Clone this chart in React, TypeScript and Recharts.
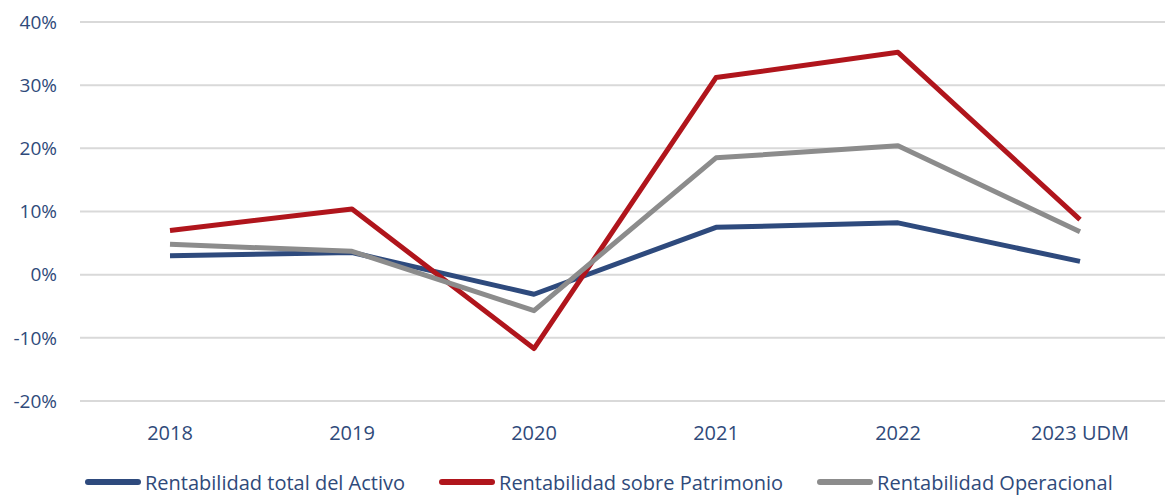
import { LineChart, Line, XAxis, YAxis, CartesianGrid, Legend } from 'recharts'

const years = ['2018', '2019', '2020', '2021', '2022', '2023 UDM']
const activo = [3.0, 3.5, -3.1, 7.5, 8.2, 2.1]
const patrimonio = [7.0, 10.4, -11.7, 31.2, 35.2, 8.7]
const operacional = [4.8, 3.7, -5.7, 18.5, 20.4, 6.8]
const yTicks = [-20, -10, 0, 10, 20, 30, 40]
const legendOrder = ['Rentabilidad total del Activo', 'Rentabilidad sobre Patrimonio', 'Rentabilidad Operacional']

const data = years.map((y, i) => ({
  year: y,
  activo: activo[i],
  patrimonio: patrimonio[i],
  operacional: operacional[i],
}))

const textColor = '#2f4a7a'
const font = '"Open Sans", sans-serif'

function LegendBox({ payload }: any) {
  const items = [...(payload || [])].sort((a: any, b: any) => legendOrder.indexOf(a.value) - legendOrder.indexOf(b.value))
  return (
    <div style={{ display: 'flex', paddingLeft: 85, height: 28, alignItems: 'center', fontFamily: font, fontSize: 20, color: textColor, whiteSpace: 'nowrap' }}>
      {items.map((p: any) => (
        <div key={p.value} style={{ display: 'flex', alignItems: 'center', marginRight: 34 }}>
          <span style={{ display: 'inline-block', width: 56, height: 6, borderRadius: 3, background: p.color, marginRight: 4 }} />
          <span>{p.value}</span>
        </div>
      ))}
    </div>
  )
}

export default function App() {
  return (
    <div style={{ position: 'absolute', left: 0, top: 0, background: '#fff' }}>
      <LineChart width={1165} height={496} data={data} margin={{ top: 22, right: 0, left: 0, bottom: 0 }}>
        <CartesianGrid vertical={false} stroke="#d9d9d9" strokeWidth={2} />
        <XAxis
          dataKey="year"
          axisLine={false}
          tickLine={false}
          tickMargin={19}
          height={67}
          padding={{ left: 90, right: 85 }}
          tick={{ fill: textColor, fontSize: 20, fontFamily: font }}
        />
        <YAxis
          domain={[-20, 40]}
          ticks={yTicks}
          width={80}
          axisLine={false}
          tickLine={false}
          tickMargin={17}
          tickFormatter={(v: number) => `${v}%`}
          tick={{ fill: textColor, fontSize: 19, fontFamily: font }}
        />
        <Legend verticalAlign="bottom" height={28} content={<LegendBox />} />
        <Line dataKey="activo" name="Rentabilidad total del Activo" stroke="#2e4a7d" strokeWidth={5} dot={false} isAnimationActive={false} strokeLinejoin="round" />
        <Line dataKey="patrimonio" name="Rentabilidad sobre Patrimonio" stroke="#b0151c" strokeWidth={5} dot={false} isAnimationActive={false} strokeLinejoin="round" />
        <Line dataKey="operacional" name="Rentabilidad Operacional" stroke="#8c8c8c" strokeWidth={5} dot={false} isAnimationActive={false} strokeLinejoin="round" />
      </LineChart>
    </div>
  )
}
